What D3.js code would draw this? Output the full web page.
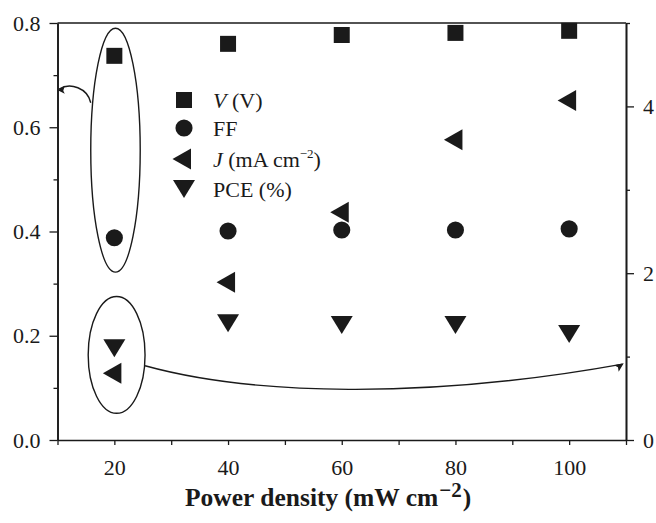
<!DOCTYPE html>
<html><head><meta charset="utf-8">
<script src="https://cdn.jsdelivr.net/npm/d3@7"></script>
<style>
html,body{margin:0;padding:0;background:#fff;}
text{font-family:"Liberation Serif","Times New Roman",serif;fill:#1a1a1a;}
</style></head>
<body>
<svg id="chart" width="656" height="523"></svg>
<script>
const power = [20, 40, 60, 80, 100];
const voltage = [0.737, 0.760, 0.777, 0.781, 0.785];   // left axis
const fillFactor = [0.388, 0.401, 0.403, 0.403, 0.405]; // left axis
const current = [0.80, 1.89, 2.73, 3.60, 4.07];         // right axis
const pce = [1.10, 1.40, 1.38, 1.38, 1.27];             // right axis
const xMajorTicks = [20, 40, 60, 80, 100];
const xAllTicks = [10, 20, 30, 40, 50, 60, 70, 80, 90, 100, 110];
const leftMajorTicks = [0, 0.2, 0.4, 0.6, 0.8];
const leftMinorTicks = [0.1, 0.3, 0.5, 0.7];
const rightMajorTicks = [0, 2, 4];
const rightMinorTicks = [1, 3, 5];

const svg = d3.select("#chart");
const L = 57.5, R = 626, T = 23, B = 440;
const ink = "#1a1a1a";
const serif = '"Liberation Serif","Times New Roman",serif';

const x = d3.scaleLinear().domain([10, 110]).range([L, R]);
const yL = d3.scaleLinear().domain([0, 0.8]).range([B, T]);
const yR = d3.scaleLinear().domain([0, 5]).range([B, T]);

function styleAxis(g){
  g.attr("font-family", serif);
  g.selectAll("path.domain").attr("stroke", ink).attr("stroke-width", 1.6);
  g.selectAll(".tick line").attr("stroke", ink).attr("stroke-width", 1.3);
  g.selectAll("text").attr("font-family", serif).attr("font-size", 22).attr("fill", ink);
}

// top frame line
svg.append("line").attr("x1", L).attr("x2", R).attr("y1", T).attr("y2", T)
  .attr("stroke", ink).attr("stroke-width", 1.6);

// bottom axis
const gx = svg.append("g").attr("transform", `translate(0,${B})`)
  .call(d3.axisBottom(x).tickValues(xAllTicks).tickSize(5).tickSizeOuter(0)
    .tickFormat(d => xMajorTicks.includes(d) ? d : ""));
styleAxis(gx);
gx.selectAll("text").attr("y", 35).attr("dy", null);

// left axis
const gl = svg.append("g").attr("transform", `translate(${L},0)`)
  .call(d3.axisLeft(yL).tickValues(leftMajorTicks).tickSize(8).tickSizeOuter(0).tickPadding(9)
    .tickFormat(d3.format(".1f")));
styleAxis(gl);
const glm = svg.append("g").attr("transform", `translate(${L},0)`)
  .call(d3.axisLeft(yL).tickValues(leftMinorTicks).tickSize(4).tickSizeOuter(0).tickFormat(""));
styleAxis(glm);

// right axis
const gr = svg.append("g").attr("transform", `translate(${R},0)`)
  .call(d3.axisRight(yR).tickValues(rightMajorTicks).tickSize(8).tickSizeOuter(0).tickPadding(9)
    .tickFormat(d3.format("d")));
styleAxis(gr);
const grm = svg.append("g").attr("transform", `translate(${R},0)`)
  .call(d3.axisRight(yR).tickValues(rightMinorTicks).tickSize(4).tickSizeOuter(0).tickFormat(""));
styleAxis(grm);

// axis title
const titleMain = svg.append("text").attr("x", 185).attr("y", 506)
  .attr("font-size", 25.5).attr("font-weight", "bold").text("Power density (mW cm");
const tw = titleMain.node().getComputedTextLength();
const supT = svg.append("text").attr("x", 185 + tw + 1).attr("y", 497)
  .attr("font-size", 21).attr("font-weight", "bold").text("\u22122");
const sw = supT.node().getComputedTextLength();
svg.append("text").attr("x", 185 + tw + sw + 2).attr("y", 506)
  .attr("font-size", 25.5).attr("font-weight", "bold").text(")");

// marker shapes
const leftTri = { draw(ctx){ ctx.moveTo(-11.5, 0); ctx.lineTo(7, -10.5); ctx.lineTo(7, 10.5); ctx.closePath(); } };
const downTri = { draw(ctx){ ctx.moveTo(-11, -9); ctx.lineTo(11, -9); ctx.lineTo(0, 9); ctx.closePath(); } };
const sym = {
  square: d3.symbol().type(d3.symbolSquare).size(256),
  circle: d3.symbol().type(d3.symbolCircle).size(230),
  left: d3.symbol().type(leftTri),
  down: d3.symbol().type(downTri)
};

const series = [
  {vals: voltage, y: yL, shape: "square"},
  {vals: fillFactor, y: yL, shape: "circle"},
  {vals: current, y: yR, shape: "left"},
  {vals: pce, y: yR, shape: "down"}
];
series.forEach(s => {
  svg.append("g").selectAll("path").data(power).join("path")
    .attr("d", sym[s.shape]())
    .attr("fill", ink)
    .attr("transform", (d, i) => `translate(${x(d)},${s.y(s.vals[i])})`);
});

// legend
const legendItems = [
  {shape: "square", label: [{t: "V", i: true}, {t: " (V)"}]},
  {shape: "circle", label: [{t: "FF"}]},
  {shape: "left", label: [{t: "J", i: true}, {t: " (mA cm"}, {t: "\u22122", sup: true}, {t: ")"}]},
  {shape: "down", label: [{t: "PCE (%)"}]}
];
const legendY = [100, 128, 159, 189];
legendItems.forEach((it, k) => {
  svg.append("path").attr("d", sym[it.shape]())
    .attr("fill", ink).attr("transform", `translate(184,${legendY[k]})`);
  const tx = svg.append("text").attr("x", 213).attr("y", legendY[k] + 8).attr("font-size", 22);
  let raised = false;
  it.label.forEach(p => {
    const ts = tx.append("tspan").text(p.t);
    if (p.i) ts.attr("font-style", "italic");
    if (p.sup) { ts.attr("font-size", 13).attr("dy", -9); raised = true; }
    else if (raised) { ts.attr("dy", 9); raised = false; }
  });
});

// annotations: ellipses and arrows
const annot = svg.append("g").attr("fill", "none").attr("stroke", ink).attr("stroke-width", 1.4);
annot.append("ellipse").attr("cx", x(20.2)).attr("cy", yL(0.556))
  .attr("rx", x(24.55) - x(20.2)).attr("ry", yL(0.322) - yL(0.556));
annot.append("ellipse").attr("cx", x(20.4)).attr("cy", yR(1.02))
  .attr("rx", x(25.4) - x(20.4)).attr("ry", yR(0.32) - yR(1.02));

const p = d3.path();
p.moveTo(x(15.85), yL(0.647));
p.bezierCurveTo(x(15.3), yL(0.675), x(12.2), yL(0.687), x(10.3), yL(0.673));
annot.append("path").attr("d", p.toString());
const q = d3.path();
q.moveTo(x(25.4), yR(0.89));
q.bezierCurveTo(x(44), yR(0.54), x(74.4), yR(0.48), x(109.4), yR(0.91));
annot.append("path").attr("d", q.toString());

// arrowheads
svg.append("path").attr("fill", ink)
  .attr("d", `M${x(10.05)},${yL(0.671)} l7,-4.5 l-1.5,5 l1.5,3 z`);
svg.append("path").attr("fill", ink)
  .attr("transform", `translate(${x(109.6)},${yR(0.92)}) rotate(-35)`)
  .attr("d", "M0,0 l-9,-4 l2,4 l-2,4 z");
</script>
</body></html>
